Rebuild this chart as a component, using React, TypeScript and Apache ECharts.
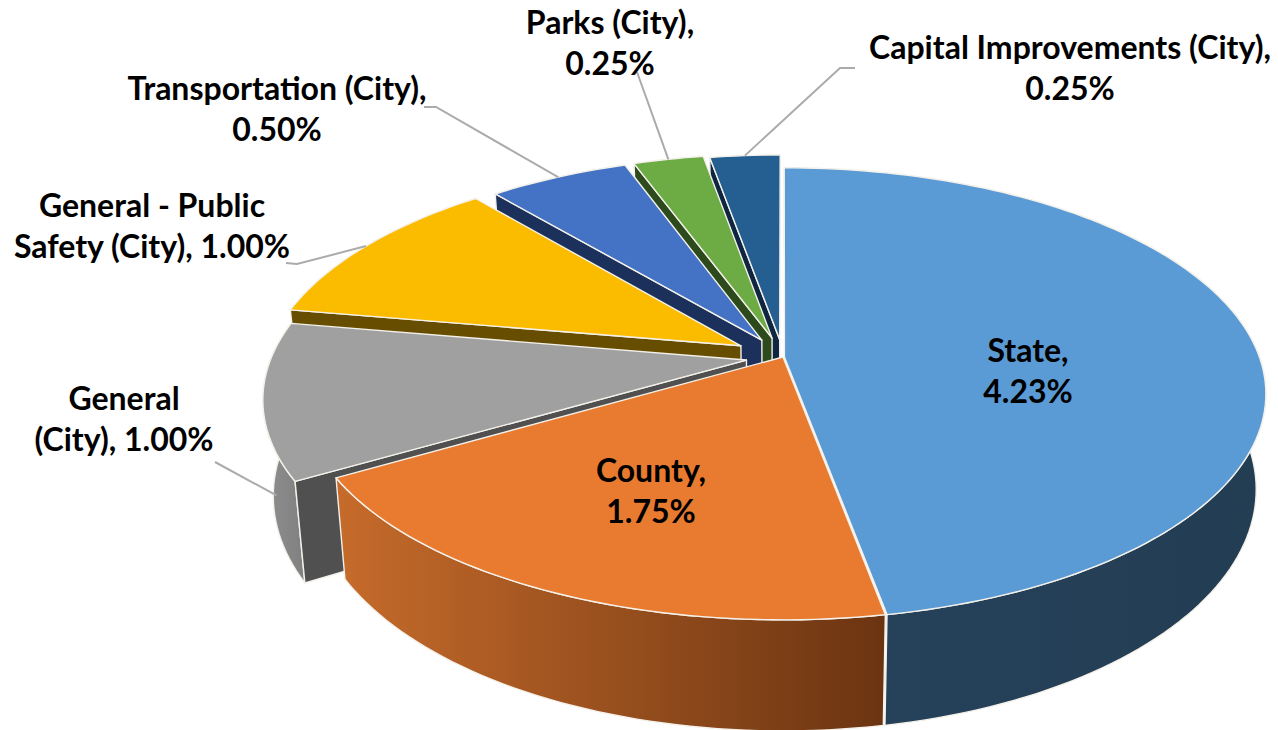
import React, { useEffect, useRef } from "react";
import * as echarts from "echarts";

const categories = [
  "State",
  "County",
  "General (City)",
  "General - Public Safety (City)",
  "Transportation (City)",
  "Parks (City)",
  "Capital Improvements (City)",
];
const rates = [4.23, 1.75, 1.0, 1.0, 0.5, 0.25, 0.25];
const labelTemplates = [
  "State,\n{v}",
  "County,\n{v}",
  "General\n(City), {v}",
  "General - Public\nSafety (City), {v}",
  "Transportation (City),\n{v}",
  "Parks (City),\n{v}",
  "Capital Improvements (City),\n{v}",
];

const topColors = ["#5B9BD5", "#E97B30", "#A0A0A0", "#FBBC00", "#4472C4", "#6DAB45", "#255E91"];
const radialColors = ["#1F3A52", "#6B3411", "#505050", "#664D00", "#1B305A", "#2D4A1D", "#0F2642"];
const outerLeft = ["#26435C", "#C66B2B", "#8F8F8F", "#665000", "#1B305A", "#2D4A1D", "#0F2642"];
const outerRight = ["#233D53", "#6B3411", "#808080", "#665000", "#1B305A", "#2D4A1D", "#0F2642"];
const explode = [0.003, 0, 0.078, 0.103, 0.09, 0.09, 0.08];
const showRadialWall = [false, false, true, true, true, true, true];

// label layout: centre x, first-line centre y; leader: elbow points, anchor position in slice and down the wall
const labelX = [1028, 651, 124, 152, 277, 610, 1070];
const labelY = [349, 469, 397, 204, 87, 21, 46];
const leaderStart: (number[][] | null)[] = [
  null,
  null,
  [[215, 462]],
  [[286, 263], [297, 264]],
  [[424, 107], [436, 107]],
  [[637, 72]],
  [[855, 68], [840, 68]],
];
const leaderFrac = [0, 0, 0.25, 0.5, 0.5, 0.5, 0.5];
const leaderDepth = [0, 0, 0.55, 0, 0, 0, 0];

const CX = 783;
const CY = 357;
const R = 475;
const RS = 220;
const K = 0.163;
const DEPTH = 93;
const SHRINK = 0.02;
const FONT = '700 32px Lato, "Open Sans", sans-serif';
const LINE_H = 41;
const EDGE = "#F4F1EA";

const total = rates.reduce((a, b) => a + b, 0);
const starts: number[] = [];
rates.reduce((acc, v, i) => {
  starts[i] = acc;
  return acc + v;
}, 0);

function proj(u: number, v: number, d: number) {
  const w = 1 - K * v;
  return [CX + ((R * u) / w) * (1 - SHRINK * d), CY + (RS * v) / w + (d * DEPTH) / w];
}

function sliceGeom(i: number) {
  const a0 = (starts[i] / total) * Math.PI * 2;
  const a1 = ((starts[i] + rates[i]) / total) * Math.PI * 2;
  const mid = (a0 + a1) / 2;
  const ou = explode[i] * Math.sin(mid);
  const ov = -explode[i] * Math.cos(mid);
  const at = (a: number, d: number) => proj(ou + Math.sin(a), ov - Math.cos(a), d);
  const apex = (d: number) => proj(ou, ov, d);
  return { a0, a1, at, apex };
}

function renderSlice(_: any, api: any) {
  const i = api.value(0) as number;
  const { a0, a1, at, apex } = sliceGeom(i);
  const n = Math.max(8, Math.round((a1 - a0) * 40));
  const angles: number[] = [];
  for (let s = 0; s <= n; s++) angles.push(a0 + ((a1 - a0) * s) / n);
  const topArc = angles.map((a) => at(a, 0));
  const botArc = angles.map((a) => at(a, 1)).reverse();
  const base = { stroke: EDGE, lineWidth: 1.4, lineJoin: "round" };
  const children: any[] = [
    {
      type: "polygon",
      shape: { points: [...topArc, ...botArc] },
      style: {
        ...base,
        fill: new echarts.graphic.LinearGradient(0, 0, 1, 0, [
          { offset: 0, color: outerLeft[i] },
          { offset: 1, color: outerRight[i] },
        ]),
      },
    },
  ];
  if (showRadialWall[i]) {
    children.push({
      type: "polygon",
      shape: { points: [apex(0), at(a0, 0), at(a0, 1), apex(1)] },
      style: { ...base, fill: radialColors[i] },
    });
  }
  children.push({
    type: "polygon",
    shape: { points: [apex(0), ...topArc] },
    style: { ...base, fill: topColors[i] },
  });
  return { type: "group", children };
}

function renderLabel(_: any, api: any) {
  const i = api.value(0) as number;
  const text = labelTemplates[i].replace("{v}", (api.value(1) as number).toFixed(2) + "%");
  const children: any[] = [];
  const start = leaderStart[i];
  if (start) {
    const { a0, a1, at } = sliceGeom(i);
    const anchor = at(a0 + (a1 - a0) * leaderFrac[i], leaderDepth[i]);
    children.push({
      type: "polyline",
      shape: { points: [...start, anchor] },
      style: { stroke: "#ABABAB", lineWidth: 2, fill: "none" },
    });
  }
  text.split("\n").forEach((line, k) => {
    children.push({
      type: "text",
      style: {
        text: line,
        x: labelX[i],
        y: labelY[i] + k * LINE_H,
        align: "center",
        verticalAlign: "middle",
        font: FONT,
        fill: "#000000",
      },
    });
  });
  return { type: "group", children };
}

export default function App() {
  const ref = useRef<HTMLDivElement>(null);
  useEffect(() => {
    const chart = echarts.init(ref.current!, null, { renderer: "svg" });
    const items = rates.map((v, i) => ({ name: categories[i], value: [i, v] }));
    chart.setOption({
      animation: false,
      backgroundColor: "#FFFFFF",
      series: [
        {
          type: "custom",
          coordinateSystem: "none",
          silent: true,
          clip: false,
          renderItem: renderSlice,
          data: [...items].reverse(),
          z: 2,
        },
        {
          type: "custom",
          coordinateSystem: "none",
          silent: true,
          clip: false,
          renderItem: renderLabel,
          data: items,
          z: 3,
        },
      ],
    });
    return () => chart.dispose();
  }, []);
  return <div ref={ref} style={{ position: "fixed", left: 0, top: 0, width: 1278, height: 730 }} />;
}
